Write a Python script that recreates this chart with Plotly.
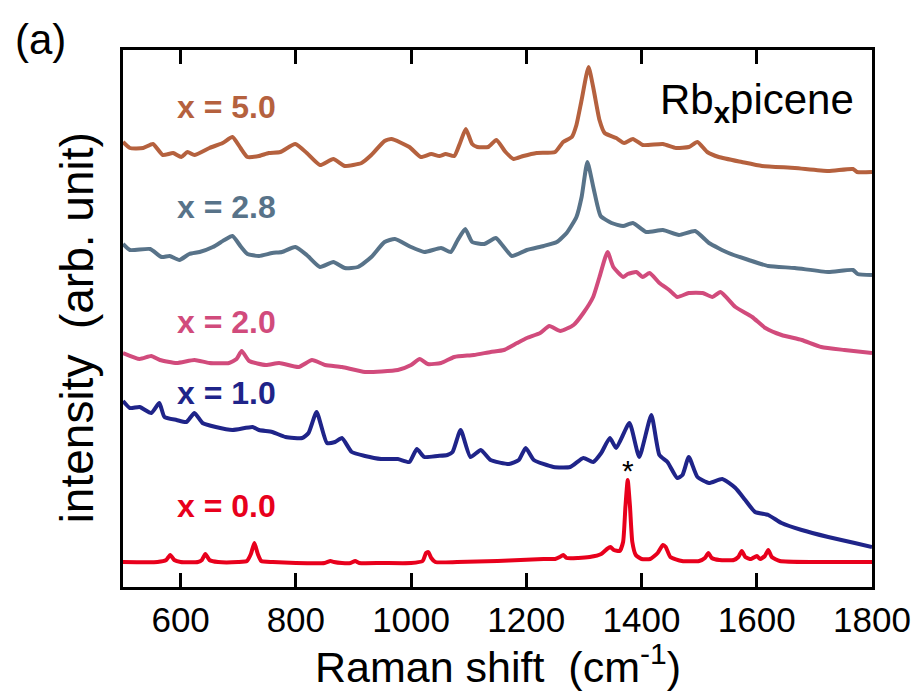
import plotly.graph_objects as go

# ---------------- data (Raman shift in cm^-1, intensity in arb. units, offset traces) -------------
x5_shift = [500, 512, 535, 552, 569, 587, 601, 612, 624, 650, 673, 690, 704, 716, 736, 753, 773, 799,
            819, 842, 865, 885, 914, 931, 954, 966, 997, 1017, 1035, 1049, 1060, 1075, 1085, 1095, 1106,
            1115, 1134, 1148, 1164, 1178, 1195, 1218, 1250, 1264, 1279, 1287, 1296, 1308, 1317, 1327,
            1336, 1356, 1370, 1385, 1402, 1437, 1460, 1482, 1497, 1514, 1534, 1574, 1609, 1666, 1724,
            1767, 1774, 1800]
x5_int = [445, 439, 439, 443, 432, 434, 430, 435, 432, 439, 444, 450, 439, 430, 431, 434, 435, 443,
          434, 422, 428, 421, 424, 432, 446, 448, 440, 430, 433, 431, 433, 431, 444, 458, 443,
          440, 440, 447, 435, 428, 431, 434, 435, 445, 450, 462, 487, 520, 497, 467,
          454, 449, 444, 448, 442, 443, 439, 440, 445, 435, 430, 425, 421, 419, 416,
          418, 415, 415]

x28_shift = [500, 512, 547, 567, 581, 598, 615, 633, 656, 676, 690, 705, 716, 736, 759, 776, 799, 819,
             842, 865, 885, 908, 931, 954, 972, 1000, 1023, 1052, 1069, 1081, 1094, 1106, 1127, 1147,
             1161, 1175, 1201, 1230, 1253, 1270, 1287, 1296, 1306, 1317, 1329, 1348, 1368, 1385, 1408,
             1437, 1465, 1493, 1517, 1551, 1586, 1620, 1666, 1724, 1767, 1775, 1800]
x28_int = [343, 337, 338, 330, 331, 327, 333, 335, 340, 347, 351, 340, 333, 331, 334, 335, 340, 332,
           320, 325, 319, 320, 330, 345, 348, 340, 335, 339, 335, 347, 358, 345, 343, 349,
           340, 331, 337, 341, 345, 354, 370, 390, 425, 398, 371, 364, 361, 364, 355,
           357, 352, 356, 344, 334, 327, 321, 319, 315, 317, 313, 312]

x20_shift = [500, 529, 549, 564, 593, 624, 650, 684, 697, 706, 719, 748, 771, 805, 828, 851, 880, 920,
             977, 1000, 1015, 1029, 1052, 1075, 1109, 1138, 1161, 1184, 1201, 1224, 1240, 1259, 1282,
             1299, 1316, 1327, 1341, 1351, 1368, 1376, 1391, 1402, 1414, 1431, 1448, 1462, 1482,
             1506, 1523, 1537, 1563, 1592, 1615, 1643, 1678, 1712, 1752, 1800]
x20_int = [234, 228, 231, 227, 224, 227, 224, 224, 228, 236, 226, 222, 224, 220, 227, 222, 220, 215,
           217, 222, 228, 223, 224, 230, 232, 235, 237, 244, 249, 254, 261, 256, 262,
           274, 290, 310, 335, 320, 310, 313, 315, 310, 314, 304, 297, 290, 294,
           294, 290, 295, 280, 270, 259, 252, 247, 240, 237, 234]

x10_shift = [500, 512, 529, 549, 563, 572, 593, 610, 624, 638, 661, 690, 725, 736, 759, 782, 811, 822,
             836, 854, 868, 880, 897, 920, 948, 977, 997, 1010, 1023, 1046, 1063, 1072, 1086, 1103,
             1121, 1138, 1170, 1187, 1199, 1213, 1247, 1276, 1299, 1316, 1330, 1345, 1356, 1379,
             1396, 1417, 1431, 1445, 1462, 1471, 1482, 1497, 1517, 1540, 1563, 1580, 1597, 1620,
             1643, 1678, 1724, 1770, 1800]
x10_int = [186, 179, 180, 174, 184, 170, 167, 165, 174, 164, 160, 157, 160, 157, 155, 150, 149, 154,
           175, 144, 145, 149, 135, 131, 128, 128, 125, 138, 130, 131, 132, 135, 157, 130,
           137, 127, 123, 127, 139, 127, 120, 120, 129, 125, 134, 149, 139, 164,
           130, 172, 132, 125, 109, 112, 130, 110, 104, 108, 99, 87, 75, 72,
           64, 57, 50, 44, 40]

x00_shift = [500, 560, 575, 582, 589, 600, 630, 637, 643, 650, 665, 700, 715, 722, 728, 734, 740, 760,
             800, 850, 860, 866, 880, 895, 903, 910, 950, 1000, 1020, 1026, 1030, 1035, 1042, 1080,
             1150, 1190, 1230, 1250, 1258, 1264, 1270, 1290, 1310, 1330, 1340, 1346, 1352, 1362,
             1368, 1372, 1376, 1380, 1384, 1390, 1400, 1415, 1428, 1437, 1442, 1450, 1470, 1500,
             1510, 1516, 1522, 1535, 1560, 1568, 1574, 1580, 1590, 1600, 1606, 1614, 1620, 1626,
             1640, 1700, 1760, 1800]
x00_int = [25, 25, 27, 32, 27, 25, 25, 27, 33, 27, 25, 25, 26, 33, 44, 33, 26, 25,
           24, 24, 26, 25, 24, 24, 26, 24, 24, 24, 26, 34, 35, 29, 25, 25,
           26, 27, 28, 28, 30, 32, 29, 29, 30, 33, 38, 40, 37, 36,
           45, 80, 107, 80, 45, 32, 28, 28, 34, 42, 40, 30, 26, 26,
           29, 34, 29, 27, 27, 30, 36, 30, 28, 31, 28, 31, 37, 30,
           26, 25, 25, 25]

series_labels = ["x = 5.0", "x = 2.8", "x = 2.0", "x = 1.0", "x = 0.0"]
series_colors = ["#B5613E", "#587389", "#D14B7C", "#1F2489", "#E8001C"]
label_pos_y = [480, 380, 265, 194, 81]
label_pos_x = 590

x_ticks = [600, 800, 1000, 1200, 1400, 1600, 1800]

FONT = "Arial, 'Liberation Sans', Helvetica, sans-serif"

fig = go.Figure()
all_series = [(x5_shift, x5_int), (x28_shift, x28_int), (x20_shift, x20_int),
              (x10_shift, x10_int), (x00_shift, x00_int)]
for (xs, ys), name, col in zip(all_series, series_labels, series_colors):
    fig.add_trace(go.Scatter(x=xs, y=ys, mode="lines", name=name,
                             line=dict(color=col, width=4, shape="spline", smoothing=0.5),
                             showlegend=False, hoverinfo="skip"))

for name, col, ly in zip(series_labels, series_colors, label_pos_y):
    fig.add_annotation(x=label_pos_x, y=ly, xref="x", yref="y", text="<b>%s</b>" % name,
                       showarrow=False, xanchor="left", yanchor="middle",
                       font=dict(family=FONT, size=32, color=col))

# asterisk marking the substrate / reference line
fig.add_annotation(x=1376, y=117, xref="x", yref="y", text="*", showarrow=False,
                   xanchor="center", yanchor="middle", font=dict(family=FONT, size=30, color="black"))

fig.add_annotation(x=1, y=1, xref="paper", yref="paper",
                   text="Rb<sub><b>x</b></sub>picene", showarrow=False,
                   xanchor="right", yanchor="top", xshift=-16, yshift=-24,
                   font=dict(family=FONT, size=42, color="black"))

fig.add_annotation(x=(12 - 123) / 755, y=(587 - 40) / 537, xref="paper", yref="paper", text="(a)",
                   showarrow=False, xanchor="left", yanchor="middle",
                   font=dict(family=FONT, size=42, color="black"))

# axis titles
fig.add_annotation(x=0.5, y=(587 - 693) / 537, xref="paper", yref="paper",
                   text="Raman shift  (cm<sup>-1</sup>)", showarrow=False,
                   xanchor="center", yanchor="bottom",
                   font=dict(family=FONT, size=43, color="black"))
fig.add_annotation(x=(77 - 123) / 755, y=(587 - 328) / 537, xref="paper", yref="paper",
                   text="intensity  (arb. unit)", showarrow=False, textangle=-90,
                   xanchor="center", yanchor="middle",
                   font=dict(family=FONT, size=46, color="black"))

fig.update_layout(
    width=923, height=694,
    margin=dict(l=123, r=45, t=50, b=107),
    paper_bgcolor="white", plot_bgcolor="white",
    font=dict(family=FONT, color="black"),
)
fig.update_xaxes(range=[500, 1800], tickvals=x_ticks, ticktext=[str(v) for v in x_ticks],
                 ticks="inside", ticklen=14, tickwidth=3, tickcolor="black",
                 showline=True, linewidth=3, linecolor="black", mirror="ticks",
                 showgrid=False, zeroline=False,
                 tickfont=dict(family=FONT, size=35, color="black"))
fig.update_yaxes(range=[0, 537], showticklabels=False, ticks="",
                 showline=True, linewidth=3, linecolor="black", mirror=True,
                 showgrid=False, zeroline=False)

fig.write_html("out.html", config={"displayModeBar": False},
               post_script="document.body.style.margin='0';")
